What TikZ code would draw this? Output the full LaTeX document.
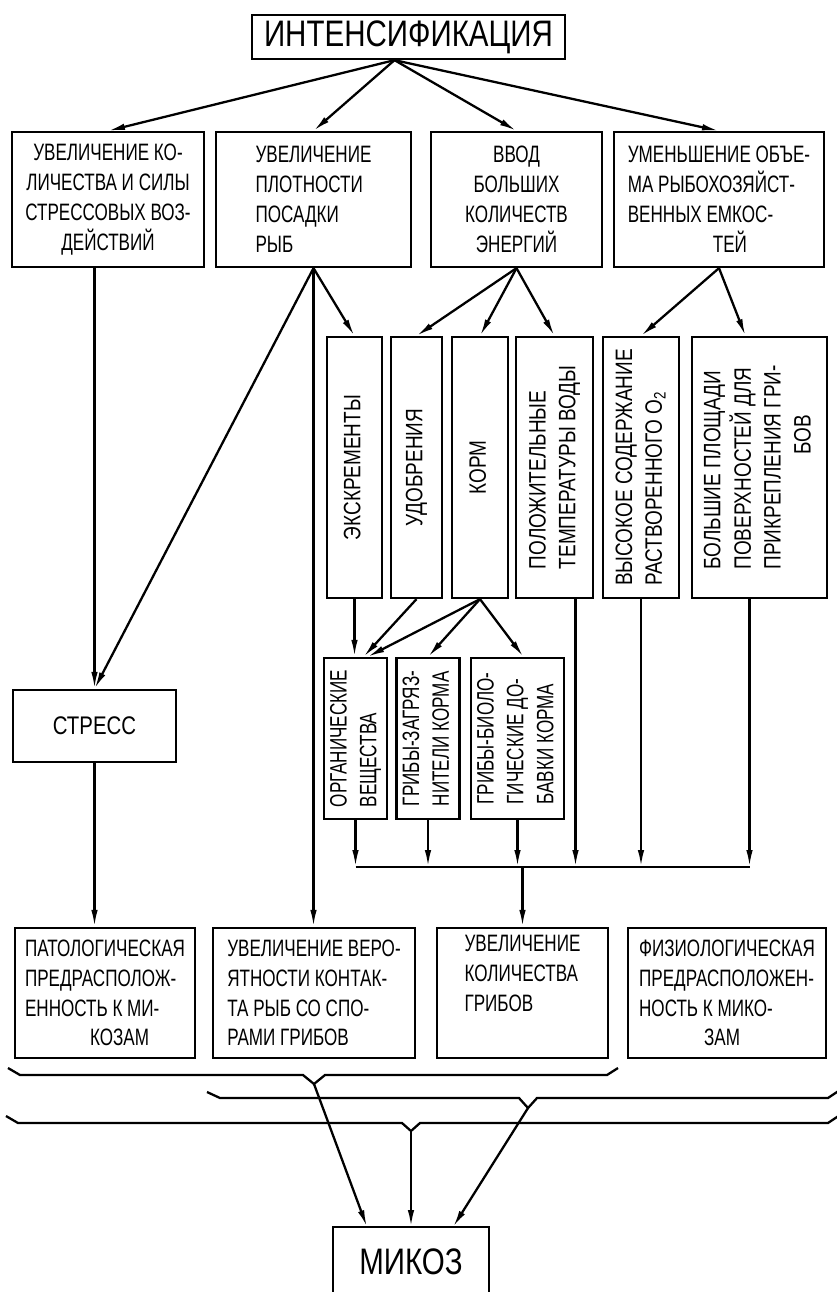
\documentclass[tikz,border=0pt]{standalone}
\usepackage{fontspec}
\setmainfont{Liberation Sans}[FakeStretch=0.72]
\newfontfamily\widefont{Liberation Sans}[FakeStretch=0.8]
\usetikzlibrary{arrows.meta,calc}

\tikzset{
  box/.style={draw, line width=1.3pt, inner sep=1pt, font=\fontsize{13.5}{17}\selectfont},
  colbox/.style={box, font=\widefont\fontsize{13.5}{17}\selectfont},
  arr/.style={line width=1.3pt, -{Latex[length=0.34cm,width=0.13cm]}},
  ln/.style={line width=1.3pt},
}
\newcommand{\vtext}[1]{\rotatebox{90}{\begin{tabular}{@{}l@{}}#1\end{tabular}}}

\begin{document}
\begin{tikzpicture}[x=0.02cm, y=-0.02cm]
  \useasboundingbox (0,0) rectangle (836,1292);

  % top
  \node[box, font=\widefont\fontsize{21}{24}\selectfont, minimum width=6.26cm, minimum height=0.88cm] (intens) at (408.5,37) {ИНТЕНСИФИКАЦИЯ};

  % first row
  \node[box, align=center, minimum width=3.84cm, minimum height=2.7cm] (stressact) at (108,199.5) {УВЕЛИЧЕНИЕ КО-\\ЛИЧЕСТВА И СИЛЫ\\СТРЕССОВЫХ ВОЗ-\\ДЕЙСТВИЙ};
  \node[box, align=left, minimum width=3.9cm, minimum height=2.7cm] (density) at (313.5,199.5) {УВЕЛИЧЕНИЕ\\ПЛОТНОСТИ\\ПОСАДКИ\\РЫБ};
  \node[box, align=center, minimum width=3.42cm, minimum height=2.7cm] (energy) at (516.5,199.5) {ВВОД\\БОЛЬШИХ\\КОЛИЧЕСТВ\\ЭНЕРГИЙ};
  \node[box, align=left, minimum width=4.2cm, minimum height=2.7cm] (volume) at (719,199.5) {УМЕНЬШЕНИЕ ОБЪЕ-\\МА РЫБОХОЗЯЙСТ-\\ВЕННЫХ ЕМКОС-\\\hspace*{1.7cm}ТЕЙ};

  % columns
  \node[colbox, minimum width=1.1cm, minimum height=5.22cm] (excr) at (354.5,467.5) {\vtext{ЭКСКРЕМЕНТЫ}};
  \node[colbox, minimum width=1.02cm, minimum height=5.22cm] (fert) at (416.5,467.5) {\vtext{УДОБРЕНИЯ}};
  \node[colbox, minimum width=1.12cm, minimum height=5.22cm] (feed) at (480,467.5) {\vtext{КОРМ}};
  \node[colbox, minimum width=1.54cm, minimum height=5.22cm] (temp) at (554.5,467.5) {\vtext{ПОЛОЖИТЕЛЬНЫЕ\\ТЕМПЕРАТУРЫ ВОДЫ}};
  \node[colbox, minimum width=1.52cm, minimum height=5.22cm] (oxygen) at (641,467.5) {\vtext{ВЫСОКОЕ СОДЕРЖАНИЕ\\РАСТВОРЕННОГО O\textsubscript{2}}};
  \node[colbox, minimum width=2.7cm, minimum height=5.22cm] (surface) at (759.5,467.5) {\vtext{БОЛЬШИЕ ПЛОЩАДИ\\ПОВЕРХНОСТЕЙ ДЛЯ\\ПРИКРЕПЛЕНИЯ ГРИ-\\\hspace*{2.3cm}БОВ}};

  \node[box, minimum width=1.22cm, minimum height=3.22cm] (organic) at (355.5,738.5) {\vtext{ОРГАНИЧЕСКИЕ\\ВЕЩЕСТВА}};
  \node[box, minimum width=1.24cm, minimum height=3.22cm] (contam) at (428,738.5) {\vtext{ГРИБЫ-ЗАГРЯЗ-\\НИТЕЛИ КОРМА}};
  \node[box, minimum width=1.86cm, minimum height=3.22cm] (additive) at (517.5,738.5) {\vtext{ГРИБЫ-БИОЛО-\\ГИЧЕСКИЕ ДО-\\БАВКИ КОРМА}};

  \node[box, font=\widefont\fontsize{14.5}{17}\selectfont, minimum width=3.26cm, minimum height=1.44cm] (stress) at (94.5,726) {СТРЕСС};

  % bottom row
  \node[box, align=left, minimum width=3.6cm, minimum height=2.6cm] (pathol) at (105,993) {ПАТОЛОГИЧЕСКАЯ\\ПРЕДРАСПОЛОЖ-\\ЕННОСТЬ К МИ-\\\hspace*{1.3cm}КОЗАМ};
  \node[box, align=left, minimum width=4.04cm, minimum height=2.6cm] (contact) at (314,993) {УВЕЛИЧЕНИЕ ВЕРО-\\ЯТНОСТИ КОНТАК-\\ТА РЫБ СО СПО-\\РАМИ ГРИБОВ};
  \node[box, align=left, minimum width=3.42cm, minimum height=2.6cm] (fungi) at (522.5,993) {УВЕЛИЧЕНИЕ\\КОЛИЧЕСТВА\\ГРИБОВ\\\strut};
  \node[box, align=left, minimum width=3.96cm, minimum height=2.6cm] (physio) at (727,993) {ФИЗИОЛОГИЧЕСКАЯ\\ПРЕДРАСПОЛОЖЕН-\\НОСТЬ К МИКО-\\\hspace*{1.3cm}ЗАМ};

  \node[font=\widefont\fontsize{21}{24}\selectfont, minimum width=3.12cm, minimum height=1.36cm, anchor=north] (mycosis) at (411,1227) {МИКОЗ};
  \draw[ln] (mycosis.south west) -- (mycosis.north west) -- (mycosis.north east) -- (mycosis.south east);

  % arrows from the top
  \coordinate (hub) at ($(intens.south)+(-14,0)$);
  \foreach \n in {stressact,density,energy,volume}
    \draw[arr] (hub) -- (\n.north);

  \draw[arr] (stress.north |- stressact.south) -- (stress.north);
  \draw[arr] (density.south) -- (stress.north);
  \draw[arr] (density.south) -- (excr.north);
  \draw[arr] (density.south) -- (density.south |- contact.north);

  \foreach \n in {fert,feed,temp}
    \draw[arr] (energy.south) -- (\n.north);
  \draw[arr] (volume.south) -- (oxygen.north);
  \draw[arr] (volume.south) -- ($(surface.north)+(-14,0)$);

  \draw[arr] (excr.south) -- (excr.south |- organic.north);
  \draw[arr] (fert.south) -- ($(organic.north)+(8,0)$);
  \draw[arr] (feed.south) -- ($(organic.north)+(12,0)$);
  \draw[arr] (feed.south) -- (contam.north);
  \draw[arr] (feed.south) -- ($(additive.north)+(6,0)$);

  % collecting line
  \coordinate (busline) at (0,867);
  \coordinate (tempout) at ($(temp.south)+(21,0)$);
  \coordinate (surfout) at ($(surface.south)+(-10,0)$);
  \foreach \n in {organic.south,contam.south,additive.south,tempout,oxygen.south,surfout}
    \draw[arr] (\n) -- (\n |- busline);
  \draw[ln] (organic.south |- busline) -- (surfout |- busline);
  \draw[arr] (fungi.north |- busline) -- (fungi.north);

  \draw[arr] (stress.south) -- (stress.south |- pathol.north);

  % braces
  \coordinate (br1) at (314,1084);
  \coordinate (br2) at (528,1108);
  \coordinate (br3) at (411,1131);
  \draw[ln] (8,1068) -- (20,1075) -- (303,1075) -- (br1) -- (325,1075) -- (607,1075) -- (618,1068);
  \draw[ln] (207,1092) -- (220,1098) -- (519,1098) -- (br2) -- (537,1098) -- (828,1098) -- (840,1090);
  \draw[ln] (6,1116) -- (18,1123) -- (402,1123) -- (br3) -- (420,1123) -- (828,1123) -- (840,1115);

  \draw[arr] (br1) -- ($(mycosis.north)+(-44,0)$);
  \draw[arr] (br3) -- (mycosis.north);
  \draw[arr] (br2) -- ($(mycosis.north)+(42,0)$);
\end{tikzpicture}
\end{document}
